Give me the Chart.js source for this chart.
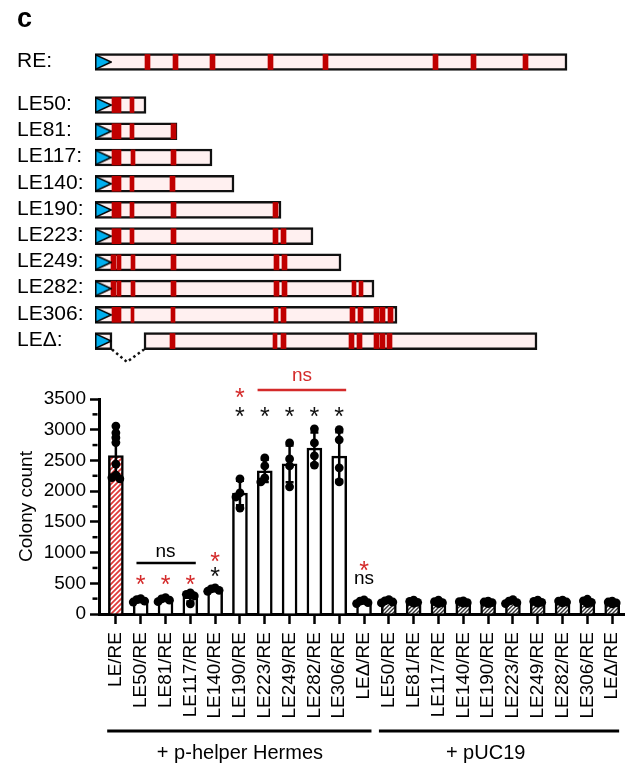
<!DOCTYPE html>
<html>
<head>
<meta charset="utf-8">
<script src="https://cdn.jsdelivr.net/npm/chart.js@4.4.0/dist/chart.umd.min.js"></script>
<style>
  html, body { margin: 0; padding: 0; background: #fff; }
  #wrap { position: relative; width: 629px; height: 766px; overflow: hidden; }
  #mapCanvas { position: absolute; left: 0; top: 0; }
  #barCanvas { position: absolute; left: 0; top: 350px; }
  #panel { position: absolute; left: 17px; top: 3px; line-height: 27px;
           font: bold 27px "Liberation Sans", Arial, sans-serif; color: #000; }
</style>
</head>
<body>
<div id="wrap">
  <canvas id="mapCanvas" width="629" height="372"></canvas>
  <canvas id="barCanvas" width="629" height="416"></canvas>
  <div id="panel">c</div>
</div>
<script>
// ---- construct map (units ~ bp from the left end) ----
const rowLabels = ['RE', 'LE50', 'LE81', 'LE117', 'LE140', 'LE190', 'LE223', 'LE249', 'LE282', 'LE306', 'LEΔ'];
const rowSegments = [
  [[0, 472]],
  [[0, 51]],
  [[0, 82]],
  [[0, 117]],
  [[0, 139]],
  [[0, 186]],
  [[0, 218]],
  [[0, 246]],
  [[0, 279]],
  [[0, 302]],
  [[0, 17], [49, 442]]
];
const rowSites = [
  [[50, 55], [78, 83], [115, 120], [173, 178], [228, 233], [338, 343], [376, 381], [428, 433]],
  [[17, 26], [35, 39]],
  [[17, 26], [35, 39], [76, 81]],
  [[17, 26], [36, 40], [76, 81]],
  [[17, 26], [35, 39], [75, 80]],
  [[17, 26], [35, 39], [76, 81], [178, 183]],
  [[17, 26], [35, 39], [76, 81], [178, 183], [186, 191]],
  [[16, 21], [22, 26], [36, 40], [76, 81], [179, 184], [187, 192]],
  [[16, 21], [22, 26], [36, 40], [76, 81], [179, 184], [187, 192], [257, 261], [264, 268]],
  [[17, 26], [36, 39], [76, 80], [179, 183], [186, 191], [255, 260], [263, 268], [279, 284], [285, 290], [293, 298]],
  [[75, 80], [178, 182], [186, 191], [254, 259], [262, 267], [279, 284], [285, 290], [292, 297]]
];

// ---- colony counts ----
const categories = ['LE/RE', 'LE50/RE', 'LE81/RE', 'LE117/RE', 'LE140/RE', 'LE190/RE', 'LE223/RE', 'LE249/RE', 'LE282/RE', 'LE306/RE', 'LEΔ/RE',
  'LE50/RE', 'LE81/RE', 'LE117/RE', 'LE140/RE', 'LE190/RE', 'LE223/RE', 'LE249/RE', 'LE282/RE', 'LE306/RE', 'LEΔ/RE'];
const meanCounts = [2580, 215, 235, 280, 395, 1970, 2330, 2445, 2700, 2570, 195, 205, 200, 195, 195, 190, 200, 200, 205, 205, 190];
const sdCounts = [300, 25, 25, 75, 25, 200, 180, 300, 255, 390, 25, 25, 20, 25, 20, 20, 25, 20, 20, 30, 20];
const replicates = [
  [3060, 2950, 2870, 2790, 2440, 2260, 2220, 2200],
  [250, 235, 210, 195],
  [265, 245, 225, 200],
  [345, 320, 295, 165],
  [425, 410, 385, 370],
  [2200, 1970, 1905, 1725],
  [2540, 2410, 2215, 2150],
  [2785, 2525, 2410, 2070],
  [3015, 2785, 2575, 2425],
  [3000, 2835, 2380, 2150],
  [230, 210, 185, 170],
  [235, 215, 195, 180],
  [225, 205, 190, 175],
  [225, 200, 185, 170],
  [215, 200, 185, 175],
  [210, 195, 185, 170],
  [235, 210, 185, 170],
  [225, 205, 190, 175],
  [225, 210, 195, 180],
  [240, 215, 190, 170],
  [210, 195, 180, 165]
];
const yTicks = [0, 500, 1000, 1500, 2000, 2500, 3000, 3500];
const groups = [
  { text: '+ p-helper Hermes', from: -0.35, to: 10.3, mid: 5 },
  { text: '+ pUC19', from: 10.6, to: 20.28, mid: 14.9 }
];
// significance marks: [category, count level]
const redStarAt = [[1, 570], [2, 570], [3, 570], [4, 945], [5, 3607], [10, 798]];
const blackStarAt = [[4, 692], [5, 3310], [6, 3310], [7, 3310], [8, 3310], [9, 3310]];
const nsBrackets = [
  { from: 0.83, to: 3.22, v: 831, textAt: 2, textV: 1010, red: false },
  { from: 5.71, to: 9.28, v: 3648, textAt: 7.5, textV: 3876, red: true }
];
const nsLoneAt = [[10, 562]];

const FONT = '"Liberation Sans", Arial, Helvetica, sans-serif';
const RED = '#d42a2a';
Chart.defaults.font.family = FONT;
Chart.defaults.color = '#000';

// ---------- top: construct map ----------
const rowPos = rowLabels.map((_, i) => (i === 0 ? 0 : i + 0.64));
const constructBars = [], siteBars = [], triSpots = [];
rowLabels.forEach((_, r) => {
  rowSegments[r].forEach(s => constructBars.push({ y: rowPos[r], x: s }));
  rowSites[r].forEach(s => siteBars.push({ y: rowPos[r], x: s }));
  triSpots.push({ x: 8.5, y: rowPos[r] });
});
const dR = rowPos[rowPos.length - 1];
const deletionPath = [{ x: 17, y: dR + 0.32 }, { x: 32, y: dR + 0.8 }, { x: 49, y: dR + 0.32 }];

const tri = document.createElement('canvas');
tri.width = 17; tri.height = 16;
const tg = tri.getContext('2d');
tg.beginPath();
tg.moveTo(0.8, 0.8); tg.lineTo(16.2, 8); tg.lineTo(0.8, 15.2); tg.closePath();
tg.fillStyle = '#00b0f0'; tg.fill();
tg.lineWidth = 1.4; tg.strokeStyle = '#000'; tg.stroke();

const rowTitles = {
  id: 'rowTitles',
  afterDraw(chart) {
    const { ctx, chartArea } = chart;
    const ys = chart.scales.y;
    ctx.save();
    ctx.font = '21px ' + FONT;
    ctx.fillStyle = '#000';
    ctx.textAlign = 'left';
    ctx.textBaseline = 'middle';
    rowLabels.forEach((l, r) => ctx.fillText(l + ':', chartArea.left - 78, ys.getPixelForValue(rowPos[r]) - 1));
    ctx.restore();
  }
};

new Chart(document.getElementById('mapCanvas'), {
  type: 'bar',
  data: {
    datasets: [
      { type: 'bar', indexAxis: 'y', data: constructBars, grouped: false, barThickness: 17,
        backgroundColor: '#fff0f0', borderColor: '#111', borderWidth: 2.5, borderSkipped: false, order: 4 },
      { type: 'bar', indexAxis: 'y', data: siteBars, grouped: false, barThickness: 15,
        backgroundColor: '#c00000', borderWidth: 0, order: 3 },
      { type: 'line', data: deletionPath, borderColor: '#111', borderWidth: 2.5, borderDash: [2.5, 3],
        pointRadius: 0, fill: false, tension: 0, order: 2 },
      { type: 'scatter', data: triSpots, pointStyle: tri, pointRadius: 8, order: 1 }
    ]
  },
  options: {
    responsive: false,
    animation: false,
    layout: { autoPadding: false, padding: { left: 95, right: 0, top: 0, bottom: 0 } },
    plugins: { legend: { display: false }, tooltip: { enabled: false } },
    scales: {
      x: { type: 'linear', display: false, offset: false, min: 0, max: 534 },
      y: { type: 'linear', display: false, offset: false, reverse: true, min: -2.365, max: 11.82 }
    }
  },
  plugins: [rowTitles]
});

// ---------- bottom: colony counts ----------
const bctx = document.getElementById('barCanvas').getContext('2d');
function hatch(line, size, lw) {
  const c = document.createElement('canvas');
  c.width = c.height = size;
  const g = c.getContext('2d');
  g.fillStyle = '#fff'; g.fillRect(0, 0, size, size);
  g.strokeStyle = line; g.lineWidth = lw;
  g.beginPath();
  g.moveTo(-1, size + 1); g.lineTo(size + 1, -1);
  g.moveTo(-size / 2 - 1, size / 2 + 1); g.lineTo(size / 2 + 1, -size / 2 - 1);
  g.moveTo(size / 2 - 1, size * 1.5 + 1); g.lineTo(size * 1.5 + 1, size / 2 - 1);
  g.stroke();
  return bctx.createPattern(c, 'repeat');
}
const redHatch = hatch('#e03a3a', 5, 1.8);
const greyHatch = hatch('#333', 4, 1.4);

// spread overlapping replicate dots sideways, like a scatter-dot column
const pxPerCount = 215 / 3500, pxPerSlot = 24.9;
const spread = [0, -0.16, 0.16, -0.3, 0.3, -0.08, 0.08];
const dotPoints = [];
replicates.forEach((vals, i) => {
  const placed = [];
  vals.forEach(v => {
    const off = spread.find(o => placed.every(p =>
      Math.hypot((p.x - i - o) * pxPerSlot, (p.y - v) * pxPerCount) >= 4));
    const pt = { x: i + (off === undefined ? 0 : off), y: v };
    placed.push(pt);
    dotPoints.push(pt);
  });
});

const decorations = {
  id: 'decorations',
  afterDatasetsDraw(chart) {
    const { ctx, chartArea } = chart;
    const xs = chart.scales.x, ys = chart.scales.y;
    ctx.save();
    ctx.strokeStyle = '#000';
    ctx.lineWidth = 2.5;
    // minor ticks
    yTicks.slice(0, -1).forEach(t => {
      const py = ys.getPixelForValue(t + 250);
      ctx.beginPath(); ctx.moveTo(chartArea.left - 1.5, py); ctx.lineTo(chartArea.left - 6.5, py); ctx.stroke();
    });
    // error bars
    meanCounts.forEach((m, i) => {
      const px = xs.getPixelForValue(i);
      const top = ys.getPixelForValue(m + sdCounts[i]);
      const bot = ys.getPixelForValue(Math.max(m - sdCounts[i], 0));
      ctx.beginPath();
      ctx.moveTo(px, bot); ctx.lineTo(px, top);
      ctx.moveTo(px - 4, top); ctx.lineTo(px + 4, top);
      ctx.moveTo(px - 4, bot); ctx.lineTo(px + 4, bot);
      ctx.stroke();
    });
    // significance
    ctx.textAlign = 'center';
    ctx.textBaseline = 'alphabetic';
    ctx.font = '25px ' + FONT;
    const star = (list, color) => list.forEach(([i, v]) => {
      ctx.fillStyle = color;
      ctx.fillText('*', xs.getPixelForValue(i), ys.getPixelForValue(v) + 14);
    });
    star(redStarAt, RED);
    star(blackStarAt, '#111');
    ctx.font = '19px ' + FONT;
    nsBrackets.forEach(b => {
      const c = b.red ? RED : '#000';
      const py = ys.getPixelForValue(b.v);
      ctx.strokeStyle = c;
      ctx.beginPath(); ctx.moveTo(xs.getPixelForValue(b.from), py); ctx.lineTo(xs.getPixelForValue(b.to), py); ctx.stroke();
      ctx.fillStyle = c;
      ctx.fillText('ns', xs.getPixelForValue(b.textAt), ys.getPixelForValue(b.textV) + 5);
    });
    ctx.fillStyle = '#000';
    nsLoneAt.forEach(([i, v]) => ctx.fillText('ns', xs.getPixelForValue(i), ys.getPixelForValue(v) + 5));
    // group brackets
    ctx.strokeStyle = '#000';
    ctx.lineWidth = 3;
    ctx.font = '20px ' + FONT;
    groups.forEach(g => {
      const ly = chartArea.bottom + 117;
      ctx.beginPath(); ctx.moveTo(xs.getPixelForValue(g.from), ly); ctx.lineTo(xs.getPixelForValue(g.to), ly); ctx.stroke();
      ctx.fillText(g.text, xs.getPixelForValue(g.mid), chartArea.bottom + 145);
    });
    ctx.restore();
  }
};

new Chart(bctx, {
  type: 'bar',
  data: {
    datasets: [
      { type: 'bar', data: meanCounts.map((m, i) => ({ x: i, y: m })), barThickness: 15,
        backgroundColor: meanCounts.map((_, i) => (i === 0 ? redHatch : i > 10 ? greyHatch : '#fff')),
        borderColor: '#000', borderWidth: 2.5, order: 2 },
      { type: 'scatter', data: dotPoints, pointRadius: 4.4, pointBackgroundColor: '#000',
        pointBorderWidth: 0, order: 1 }
    ]
  },
  options: {
    responsive: false,
    animation: false,
    layout: { padding: { left: 0, right: 3, top: 49, bottom: 0 } },
    plugins: { legend: { display: false }, tooltip: { enabled: false } },
    scales: {
      x: {
        type: 'linear', offset: false, min: -0.68, max: 20.5,
        grid: { offset: false, drawOnChartArea: false, tickLength: 10, tickWidth: 2.5, tickColor: '#000' },
        border: { color: '#000', width: 3 },
        afterBuildTicks: ax => { ax.ticks = categories.map((_, i) => ({ value: i })); },
        afterFit: ax => { ax.height = 152; ax.paddingLeft = 0; ax.paddingRight = 0; },
        ticks: { autoSkip: false, minRotation: 90, maxRotation: 90, padding: 8,
                 font: { size: 19 }, color: '#000', callback: (v, i) => categories[i] }
      },
      y: {
        type: 'linear', offset: false, min: 0, max: 3500,
        grid: { drawOnChartArea: false, tickLength: 9, tickWidth: 2.5, tickColor: '#000' },
        border: { color: '#000', width: 3 },
        afterBuildTicks: ax => { ax.ticks = yTicks.map(v => ({ value: v })); },
        afterFit: ax => { ax.width = 99; ax.paddingTop = 0; ax.paddingBottom = 0; },
        ticks: { padding: 4, font: { size: 19 }, color: '#000', callback: v => String(v) },
        title: { display: true, text: 'Colony count', font: { size: 19 }, color: '#000',
                 padding: { top: 15, bottom: 0 } }
      }
    }
  },
  plugins: [decorations]
});
</script>
</body>
</html>
